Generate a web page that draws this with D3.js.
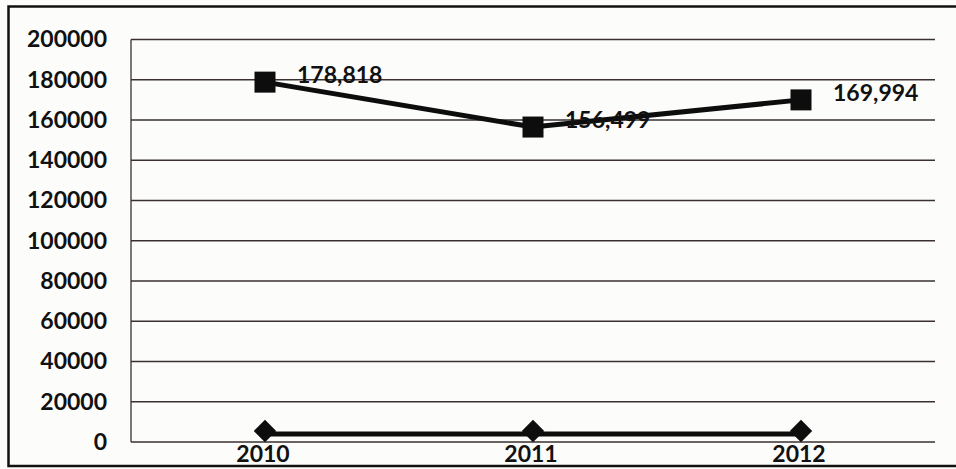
<!DOCTYPE html>
<html>
<head>
<meta charset="utf-8">
<script src="https://cdn.jsdelivr.net/npm/d3@7/dist/d3.min.js"></script>
<style>
  html, body { margin: 0; padding: 0; background: #fcfcfb; }
  svg { display: block; }
  text { font-family: Lato, "Open Sans", "Liberation Sans", sans-serif; font-weight: 700; fill: #111; }
</style>
</head>
<body>
<svg id="chart" width="956" height="469"></svg>
<script>
// Years on the category axis
const years = ["2010", "2011", "2012"];
// Upper series (square markers) with printed values
const totals = [178818, 156499, 169994];
// Lower series (diamond markers) sitting just above zero
const lower = [4000, 4000, 4000];
// Value-axis ticks
const yTicks = [0, 20000, 40000, 60000, 80000, 100000, 120000, 140000, 160000, 180000, 200000];

const svg = d3.select("#chart");
const W = 956, H = 469;
const plot = { left: 131, right: 935, top: 39.5, bottom: 442 };

// Outer frame
svg.append("rect")
  .attr("x", 8.5).attr("y", 6.5)
  .attr("width", W + 10).attr("height", 459.5)
  .attr("fill", "none").attr("stroke", "#111").attr("stroke-width", 2.5);

const x = d3.scaleBand().domain(years).range([plot.left, plot.right]);
const xc = d => x(d) + x.bandwidth() / 2;
const y = d3.scaleLinear().domain([0, 200000]).range([plot.bottom, plot.top]);

// Horizontal gridlines
svg.append("g").selectAll("line").data(yTicks).join("line")
  .attr("x1", plot.left).attr("x2", plot.right)
  .attr("y1", d => y(d)).attr("y2", d => y(d))
  .attr("stroke", "#3a3030").attr("stroke-width", 1.3);

// Vertical value axis line
svg.append("line")
  .attr("x1", plot.left).attr("x2", plot.left)
  .attr("y1", plot.top).attr("y2", plot.bottom)
  .attr("stroke", "#3a3030").attr("stroke-width", 1.3);

// Value-axis labels
const yAxis = d3.axisLeft(y).tickValues(yTicks).tickFormat(d3.format("d")).tickSize(0).tickPadding(24);
const gy = svg.append("g").attr("transform", `translate(${plot.left},0)`).call(yAxis);
gy.select(".domain").remove();
gy.selectAll("text").attr("font-size", 23).attr("font-family", null).attr("fill", "#111");

// Lower series line and diamonds
const line = d3.line().x((d, i) => xc(years[i])).y(d => y(d));
svg.append("path").datum(lower)
  .attr("d", line).attr("fill", "none")
  .attr("stroke", "#0d0d0d").attr("stroke-width", 5);
svg.append("g").selectAll("path").data(lower).join("path")
  .attr("d", d3.symbol(d3.symbolDiamond2, 320))
  .attr("transform", (d, i) => `translate(${xc(years[i])},${y(d) - 3})`)
  .attr("fill", "#0d0d0d");

// Category labels
const xAxis = d3.axisBottom(x).tickSize(0).tickPadding(0);
const gx = svg.append("g").attr("transform", `translate(0,${plot.bottom})`).call(xAxis);
gx.select(".domain").remove();
gx.selectAll("text").attr("font-size", 23).attr("font-family", null).attr("fill", "#111")
  .attr("dy", "0.85em").attr("dx", -2);

// Upper series line and squares
svg.append("path").datum(totals)
  .attr("d", line).attr("fill", "none")
  .attr("stroke", "#0d0d0d").attr("stroke-width", 5);
svg.append("g").selectAll("rect").data(totals).join("rect")
  .attr("x", (d, i) => xc(years[i]) - 10.5)
  .attr("y", d => y(d) - 10.5)
  .attr("width", 21).attr("height", 21)
  .attr("fill", "#0d0d0d");

// Value labels
const fmt = d3.format(",");
svg.append("g").selectAll("text").data(totals).join("text")
  .attr("x", (d, i) => xc(years[i]) + 32)
  .attr("y", d => y(d) - 7)
  .attr("dy", "0.35em")
  .attr("font-size", 23)
  .text(d => fmt(d));
</script>
</body>
</html>
